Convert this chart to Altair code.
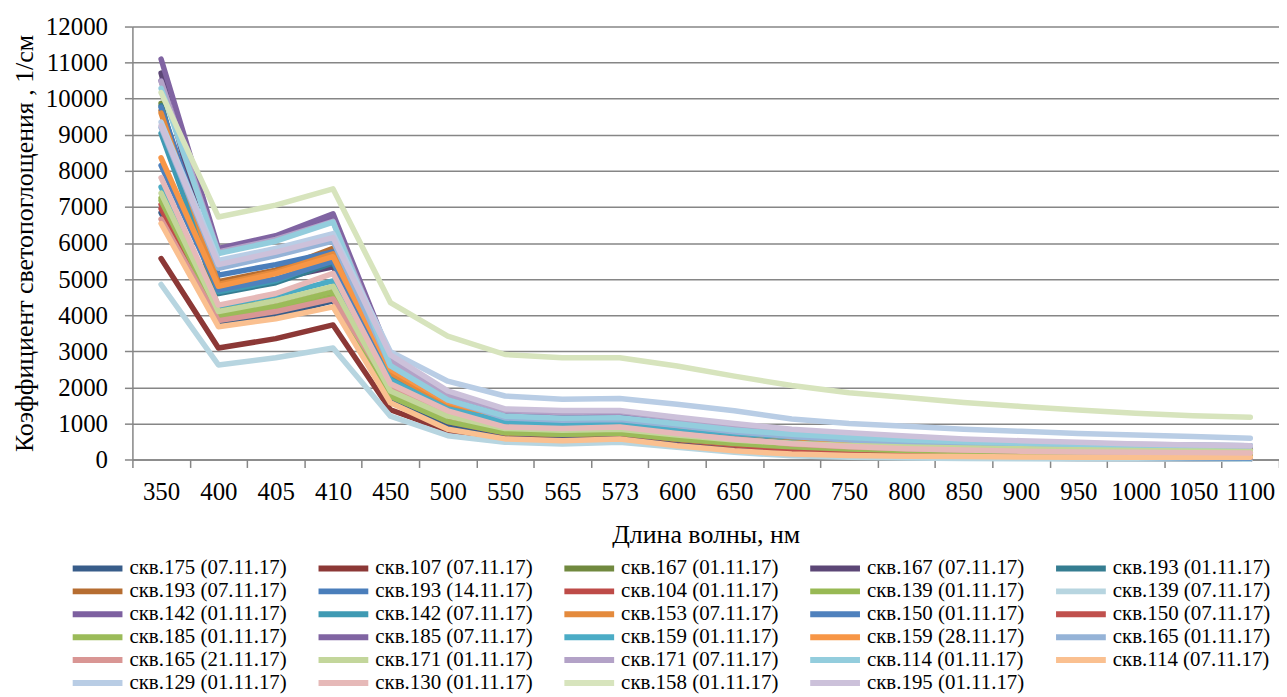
import altair as alt
import pandas as pd

wavelengths = ["350", "400", "405", "410", "450", "500", "550", "565", "573", "600",
               "650", "700", "750", "800", "850", "900", "950", "1000", "1050", "1100"]

names = [
    "скв.175 (07.11.17)", "скв.107 (07.11.17)", "скв.167 (01.11.17)", "скв.167 (07.11.17)", "скв.193 (01.11.17)",
    "скв.193 (07.11.17)", "скв.193 (14.11.17)", "скв.104 (01.11.17)", "скв.139 (01.11.17)", "скв.139 (07.11.17)",
    "скв.142 (01.11.17)", "скв.142 (07.11.17)", "скв.153 (07.11.17)", "скв.150 (01.11.17)", "скв.150 (07.11.17)",
    "скв.185 (01.11.17)", "скв.185 (07.11.17)", "скв.159 (01.11.17)", "скв.159 (28.11.17)", "скв.165 (01.11.17)",
    "скв.165 (21.11.17)", "скв.171 (01.11.17)", "скв.171 (07.11.17)", "скв.114 (01.11.17)", "скв.114 (07.11.17)",
    "скв.129 (01.11.17)", "скв.130 (01.11.17)", "скв.158 (01.11.17)", "скв.195 (01.11.17)",
]

colors = [
    "#385D8A", "#8C3836", "#71893F", "#5C4776", "#357D91",
    "#B66D31", "#4A7EBB", "#BE4B48", "#98B954", "#B7D5E0",
    "#7D60A0", "#3F9AB3", "#E48A3C", "#4F81BD", "#C0504D",
    "#9BBB59", "#8064A2", "#4BACC6", "#F79646", "#95B3D7",
    "#D99694", "#C3D69B", "#B3A2C7", "#93CDDD", "#FAC090",
    "#B9CDE5", "#E6B9B8", "#D7E4BD", "#CCC1DA",
]

s175_07 = [6840, 3780, 4000, 4400, 1650, 950, 640, 600, 620, 450, 300, 200, 140, 100, 70, 50, 35, 25, 20, 15]
s107_07 = [5570, 3090, 3350, 3730, 1380, 800, 560, 520, 540, 380, 240, 150, 100, 70, 50, 40, 30, 25, 20, 15]
s167_01 = [9870, 4150, 4400, 4750, 1900, 1150, 800, 750, 780, 600, 450, 340, 270, 220, 180, 150, 130, 110, 100, 90]
s167_07 = [10710, 4700, 5000, 5340, 2670, 1750, 1250, 1180, 1200, 1000, 800, 660, 560, 480, 420, 370, 330, 300, 280, 260]
s193_01 = [9800, 4600, 4900, 5450, 2300, 1450, 1050, 980, 1000, 820, 650, 520, 430, 360, 310, 270, 240, 220, 200, 190]
s193_07 = [9670, 4930, 5250, 5850, 2450, 1600, 1150, 1080, 1100, 930, 760, 630, 530, 450, 390, 340, 300, 270, 250, 230]
s193_14 = [9760, 5110, 5400, 5750, 2200, 1300, 880, 820, 850, 650, 470, 330, 240, 180, 140, 110, 90, 70, 60, 50]
s104_01 = [6950, 3950, 4200, 4600, 1800, 1050, 730, 690, 720, 550, 400, 290, 220, 170, 140, 110, 90, 80, 70, 60]
s139_01 = [7250, 3900, 4150, 4500, 1750, 1070, 750, 700, 740, 570, 430, 340, 280, 240, 210, 190, 170, 160, 150, 140]
s139_07 = [4850, 2620, 2820, 3090, 1200, 660, 480, 430, 480, 340, 200, 100, 60, 40, 30, 20, 15, 10, 10, 5]
s142_01 = [10500, 5800, 6150, 6700, 2800, 1700, 1200, 1130, 1150, 980, 800, 680, 580, 500, 440, 390, 350, 320, 300, 280]
s142_07 = [9040, 4650, 4950, 5550, 2250, 1400, 1000, 940, 960, 800, 640, 520, 440, 380, 330, 300, 270, 250, 230, 220]
s153_07 = [9600, 4850, 5200, 5700, 2400, 1520, 1100, 1040, 1060, 900, 740, 610, 510, 440, 380, 330, 290, 260, 240, 220]
s150_01 = [8150, 4700, 5000, 5500, 2150, 1250, 850, 800, 830, 640, 460, 330, 240, 180, 130, 100, 80, 60, 50, 40]
s150_07 = [7070, 4050, 4350, 4740, 1850, 1080, 760, 710, 740, 570, 420, 310, 240, 190, 150, 120, 100, 85, 75, 65]
s185_01 = [7180, 4000, 4250, 4650, 1750, 1050, 740, 700, 730, 570, 440, 350, 290, 250, 220, 200, 180, 170, 160, 150]
s185_07 = [11100, 5850, 6200, 6810, 2850, 1780, 1270, 1190, 1210, 1020, 830, 700, 600, 520, 460, 410, 370, 340, 320, 300]
s159_01 = [7550, 4250, 4550, 4950, 2200, 1400, 1050, 1000, 1020, 870, 730, 630, 560, 510, 470, 440, 420, 400, 390, 380]
s159_28 = [8360, 4800, 5150, 5620, 2500, 1600, 1180, 1110, 1130, 950, 780, 650, 550, 470, 410, 360, 320, 290, 270, 250]
s165_01 = [9200, 5300, 5650, 6050, 2600, 1650, 1150, 1090, 1110, 940, 770, 640, 540, 460, 400, 350, 310, 280, 260, 240]
s165_21 = [6660, 3850, 4100, 4450, 2030, 1300, 890, 840, 890, 700, 570, 430, 350, 300, 260, 240, 220, 210, 200, 200]
s171_01 = [7380, 4100, 4400, 4800, 1900, 1200, 860, 810, 840, 680, 540, 450, 390, 350, 320, 300, 280, 270, 260, 250]
s171_07 = [10480, 5750, 6100, 6600, 2750, 1800, 1350, 1300, 1320, 1130, 950, 800, 690, 610, 540, 490, 450, 420, 400, 380]
s114_01 = [10290, 5710, 6050, 6580, 2600, 1650, 1200, 1140, 1160, 990, 820, 700, 610, 540, 490, 450, 420, 400, 390, 380]
s114_07 = [6540, 3680, 3900, 4230, 1570, 840, 570, 520, 570, 380, 240, 150, 110, 90, 80, 70, 65, 60, 60, 60]
s129_01 = [9350, 5520, 5850, 6260, 2990, 2170, 1760, 1670, 1690, 1530, 1350, 1120, 1000, 920, 840, 780, 720, 680, 640, 590]
s130_01 = [7810, 4280, 4600, 5160, 2100, 1350, 900, 860, 900, 720, 560, 440, 360, 300, 260, 230, 210, 200, 190, 180]
s158_01 = [10170, 6720, 7050, 7500, 4350, 3420, 2910, 2820, 2820, 2590, 2310, 2050, 1850, 1720, 1580, 1470, 1370, 1280, 1210, 1170]
s195_01 = [9250, 5400, 5750, 6150, 2900, 1900, 1400, 1360, 1360, 1170, 1000, 840, 740, 650, 570, 520, 480, 430, 400, 380]

series_values = [
    s175_07, s107_07, s167_01, s167_07, s193_01, s193_07, s193_14, s104_01, s139_01, s139_07,
    s142_01, s142_07, s153_07, s150_01, s150_07, s185_01, s185_07, s159_01, s159_28, s165_01,
    s165_21, s171_01, s171_07, s114_01, s114_07, s129_01, s130_01, s158_01, s195_01,
]

rows = []
for k, (name, vals) in enumerate(zip(names, series_values)):
    for i, (w, v) in enumerate(zip(wavelengths, vals)):
        rows.append({"series": name, "wl": w, "v": v, "k": k, "i": i})
df = pd.DataFrame(rows)

FONT = "Liberation Serif"
GREY = "#868686"

chart = alt.Chart(df).mark_line(
    strokeWidth=5.5, strokeCap="round", strokeJoin="round"
).encode(
    x=alt.X("wl:N", sort=wavelengths, bandPosition=0.5,
            scale=alt.Scale(type="band", paddingInner=0, paddingOuter=0),
            axis=alt.Axis(title="Длина волны, нм", labelAngle=0, tickBand="extent",
                          tickSize=8, tickColor=GREY, tickWidth=1.5,
                          domainColor=GREY, domainWidth=1.5,
                          labelFont=FONT, labelFontSize=25, labelColor="#000000",
                          labelPadding=12,
                          titleFont=FONT, titleFontSize=26, titleFontWeight="normal",
                          titleColor="#000000", titleY=75, titleBaseline="middle",
                          grid=False)),
    y=alt.Y("v:Q", scale=alt.Scale(domain=[0, 12000], nice=False, zero=True),
            axis=alt.Axis(title="Коэффициент светопоглощения , 1/см",
                          values=list(range(0, 12001, 1000)), format="d",
                          tickSize=8, tickColor=GREY, tickWidth=1.5,
                          domainColor=GREY, domainWidth=1.5,
                          grid=True, gridColor=GREY, gridWidth=1.5,
                          labelFont=FONT, labelFontSize=25, labelColor="#000000",
                          labelPadding=17,
                          titleFont=FONT, titleFontSize=26, titleFontWeight="normal",
                          titleColor="#000000", titleAngle=270, titleX=-108, titleY=217.5,
                          titleAlign="center", titleBaseline="middle")),
    color=alt.Color("series:N", sort=names,
                    scale=alt.Scale(domain=names, range=colors),
                    legend=alt.Legend(title=None, orient="none", legendX=-63, legendY=533,
                                      columns=5, direction="horizontal",
                                      symbolType="stroke", symbolSize=2500, symbolStrokeWidth=6,
                                      clipHeight=23, rowPadding=0, columnPadding=28,
                                      labelFont=FONT, labelFontSize=21, labelColor="#000000",
                                      labelOffset=4, labelLimit=400, padding=0)),
    order=alt.Order("i:Q"),
    detail="series:N",
).properties(
    width=1152, height=435,
    autosize=alt.AutoSizeParams(type="none"),
    padding={"left": 125, "top": 17, "right": 0, "bottom": 235},
).configure_view(stroke=None)

chart.save("out.html", embed_options={"renderer": "svg", "actions": False})
